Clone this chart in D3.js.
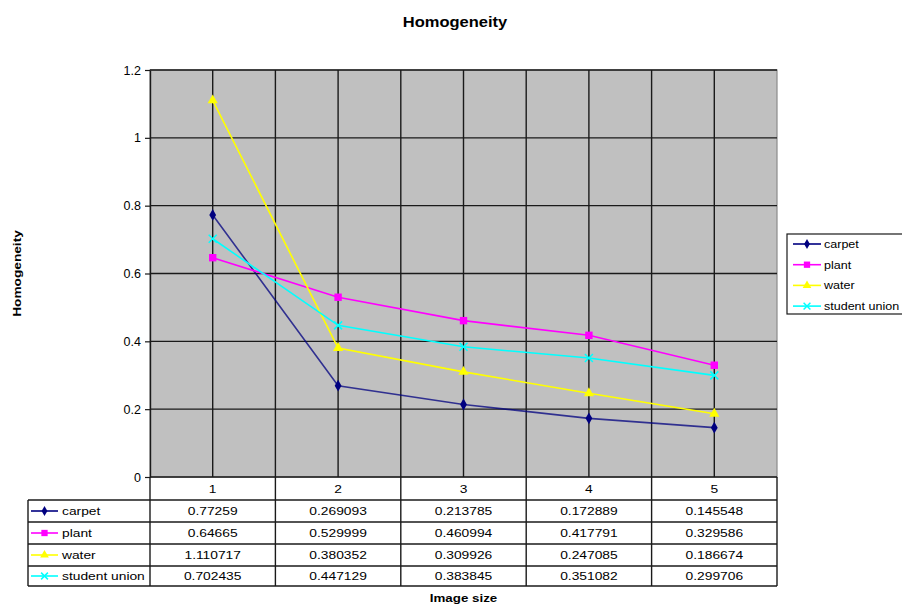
<!DOCTYPE html>
<html>
<head>
<meta charset="utf-8">
<script src="https://cdn.jsdelivr.net/npm/d3@7"></script>
<style>
  html, body { margin: 0; padding: 0; background: #fff; overflow: hidden; }
  svg { display: block; font-family: "Liberation Sans", Arial, sans-serif; }
</style>
</head>
<body>
<svg id="chart" width="902" height="605"></svg>
<script>
// Image sizes (categories) and homogeneity per texture
const categories = ["1", "2", "3", "4", "5"];
const carpet = [0.77259, 0.269093, 0.213785, 0.172889, 0.145548];
const plant = [0.64665, 0.529999, 0.460994, 0.417791, 0.329586];
const water = [1.110717, 0.380352, 0.309926, 0.247085, 0.186674];
const studentUnion = [0.702435, 0.447129, 0.383845, 0.351082, 0.299706];
const seriesNames = ["carpet", "plant", "water", "student union"];
const yTicks = [0, 0.2, 0.4, 0.6, 0.8, 1, 1.2];

const series = [
  { name: seriesNames[0], values: carpet, color: "#000080", symbol: d3.symbolDiamond, size: 40 },
  { name: seriesNames[1], values: plant, color: "#FF00FF", symbol: d3.symbolSquare, size: 55 },
  { name: seriesNames[2], values: water, color: "#FFFF00", symbol: d3.symbolTriangle, size: 45 },
  { name: seriesNames[3], values: studentUnion, color: "#00FFFF", symbol: "cross", size: 4 }
];

const svg = d3.select("#chart");
const plot = { left: 150, right: 777, top: 70, bottom: 477 };

const x = d3.scaleBand().domain(categories).range([plot.left, plot.right]);
const y = d3.scaleLinear().domain([0, 1.2]).range([plot.bottom, plot.top]);
const cx = c => x(c) + x.bandwidth() / 2;

// Text with a slightly widened face
function wideText(parent, tx, ty, str, opts) {
  const o = Object.assign({ size: 11.6, sx: 1.19, anchor: "start", weight: "normal", rotate: 0 }, opts || {});
  return parent.append("text")
    .attr("transform", `translate(${tx},${ty})` + (o.rotate ? ` rotate(${o.rotate})` : "") + ` scale(${o.sx},1)`)
    .attr("text-anchor", o.anchor)
    .attr("font-size", o.size)
    .attr("font-weight", o.weight)
    .attr("fill", "#000")
    .text(str);
}

// Plot area background
svg.append("rect")
  .attr("x", plot.left).attr("y", plot.top)
  .attr("width", plot.right - plot.left).attr("height", plot.bottom - plot.top)
  .attr("fill", "#C0C0C0").attr("stroke", "#8a8a8a").attr("stroke-width", 1.2);

// Horizontal gridlines
svg.append("g").selectAll("line").data(yTicks.filter(t => t > 0)).join("line")
  .attr("x1", plot.left).attr("x2", plot.right)
  .attr("y1", d => y(d)).attr("y2", d => y(d))
  .attr("stroke", "#1a1a1a").attr("stroke-width", 1.4);

// Vertical gridlines at band edges and centers
const vLines = [];
categories.forEach((c, i) => {
  if (i > 0) vLines.push(x(c));
  vLines.push(cx(c));
});
svg.append("g").selectAll("line").data(vLines).join("line")
  .attr("x1", d => d).attr("x2", d => d)
  .attr("y1", plot.top).attr("y2", plot.bottom)
  .attr("stroke", "#1a1a1a").attr("stroke-width", 1.4);

// Y axis
const yAxis = d3.axisLeft(y).tickValues(yTicks).tickSize(5).tickSizeOuter(0).tickFormat(d3.format(""));
const yg = svg.append("g").attr("transform", `translate(${plot.left},0)`).call(yAxis);
yg.select(".domain").attr("stroke", "#1a1a1a").attr("stroke-width", 1.4);
yg.selectAll(".tick line").attr("stroke", "#1a1a1a").attr("stroke-width", 1.2);
yg.selectAll(".tick text").attr("font-size", 12.5).attr("fill", "#000").attr("x", -9)
  .attr("font-family", "Liberation Sans, Arial, sans-serif");

// Bottom axis line
svg.append("line")
  .attr("x1", plot.left).attr("x2", plot.right)
  .attr("y1", plot.bottom).attr("y2", plot.bottom)
  .attr("stroke", "#1a1a1a").attr("stroke-width", 1.4);

// Markers
function drawMarker(g, s, px, py, scale) {
  const k = scale || 1;
  if (s.symbol === "cross") {
    const r = s.size * k;
    g.append("path")
      .attr("d", `M${px - r},${py - r}L${px + r},${py + r}M${px - r},${py + r}L${px + r},${py - r}`)
      .attr("stroke", s.color).attr("stroke-width", 1.5).attr("fill", "none");
  } else {
    g.append("path")
      .attr("d", d3.symbol().type(s.symbol).size(s.size * k * k)())
      .attr("transform", `translate(${px},${py})`)
      .attr("fill", s.color);
  }
}

// Series lines and markers
const line = d3.line().x((d, i) => cx(categories[i])).y(d => y(d));
series.forEach(s => {
  const g = svg.append("g");
  g.append("path").datum(s.values)
    .attr("d", line).attr("fill", "none")
    .attr("stroke", s.color).attr("stroke-width", 1.6)
    .attr("stroke-opacity", s.name === "carpet" ? 0.75 : 1);
  s.values.forEach((v, i) => drawMarker(g, s, cx(categories[i]), y(v)));
});

// Data table
const table = svg.append("g");
const tableLeft = 28;
const rowTops = [500, 522, 544, 566, 586];
const tStroke = "#1a1a1a";
// Category header cells
categories.forEach(c => wideText(table, cx(c), 493, c, { anchor: "middle" }));
// Horizontal rules
rowTops.forEach(ty => {
  table.append("line").attr("x1", tableLeft).attr("x2", plot.right)
    .attr("y1", ty).attr("y2", ty).attr("stroke", tStroke).attr("stroke-width", 1.4);
});
// Vertical rules
table.append("line").attr("x1", tableLeft).attr("x2", tableLeft)
  .attr("y1", rowTops[0]).attr("y2", rowTops[4]).attr("stroke", tStroke).attr("stroke-width", 1.4);
categories.forEach(c => {
  table.append("line").attr("x1", x(c)).attr("x2", x(c))
    .attr("y1", plot.bottom).attr("y2", rowTops[4]).attr("stroke", tStroke).attr("stroke-width", 1.4);
});
table.append("line").attr("x1", plot.right).attr("x2", plot.right)
  .attr("y1", plot.bottom).attr("y2", rowTops[4]).attr("stroke", tStroke).attr("stroke-width", 1.4);

series.forEach((s, r) => {
  const midY = (rowTops[r] + rowTops[r + 1]) / 2;
  const g = table.append("g");
  g.append("line").attr("x1", 31).attr("x2", 58).attr("y1", midY).attr("y2", midY)
    .attr("stroke", s.color).attr("stroke-width", 1.6);
  drawMarker(g, s, 44.5, midY, 0.85);
  wideText(g, 62, midY + 4, s.name);
  s.values.forEach((v, i) => wideText(g, cx(categories[i]), midY + 4, String(v), { anchor: "middle" }));
});

// Legend (box runs off the right edge; labels kept inside the page)
const legend = svg.append("g");
legend.append("rect").attr("x", 787).attr("y", 234).attr("width", 130).attr("height", 80)
  .attr("fill", "#fff").attr("stroke", "#1a1a1a").attr("stroke-width", 1.2);
series.forEach((s, i) => {
  const ly = 244 + i * 20.7;
  legend.append("line").attr("x1", 793).attr("x2", 821).attr("y1", ly).attr("y2", ly)
    .attr("stroke", s.color).attr("stroke-width", 1.6);
  drawMarker(legend, s, 807, ly, 0.85);
  wideText(legend, 824, ly + 4, s.name, { sx: 1.08 });
});

// Titles
wideText(svg, 455, 27, "Homogeneity", { size: 15, sx: 1.1, anchor: "middle", weight: "bold" });
wideText(svg, 21, (plot.top + plot.bottom) / 2, "Homogeneity", { size: 11.6, sx: 1.18, anchor: "middle", weight: "bold", rotate: -90 });
wideText(svg, (plot.left + plot.right) / 2, 602, "Image size", { size: 11.6, sx: 1.15, anchor: "middle", weight: "bold" });
</script>
</body>
</html>
